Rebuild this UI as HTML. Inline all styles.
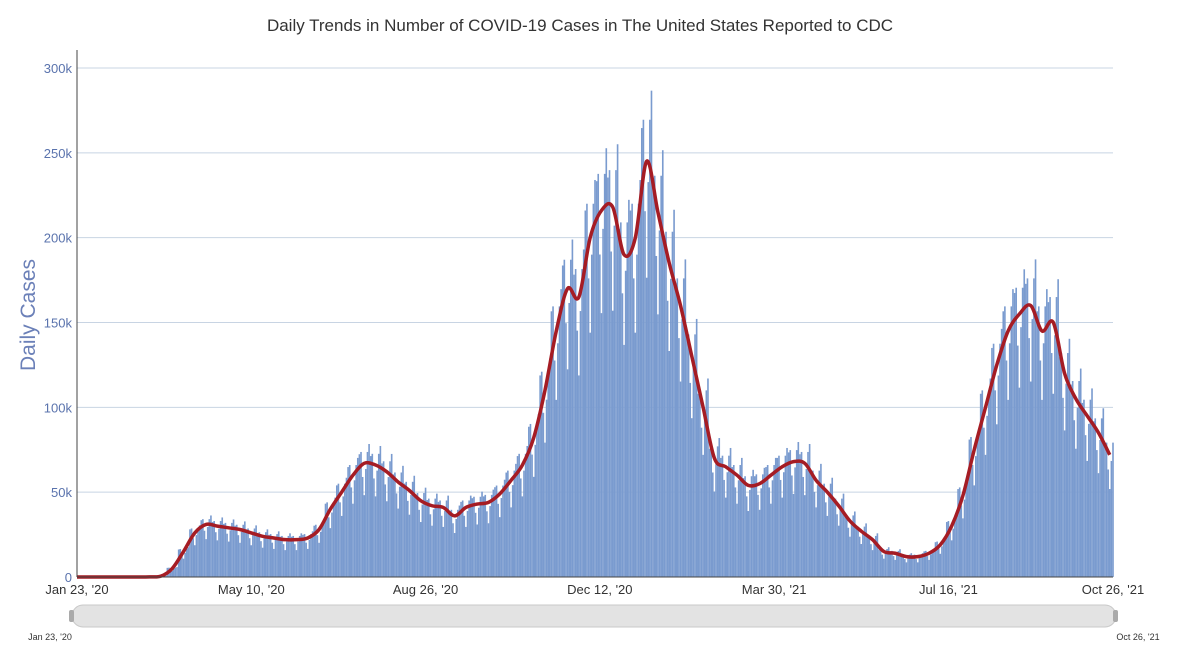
<!DOCTYPE html>
<html><head><meta charset="utf-8">
<style>
body{margin:0;background:#fff;font-family:"Liberation Sans",sans-serif;}
svg text{font-family:"Liberation Sans",sans-serif;}
</style></head>
<body>
<svg id="chart" width="1186" height="660" viewBox="0 0 1186 660">
<text x="580" y="31" text-anchor="middle" font-size="17" fill="#333">Daily Trends in Number of COVID-19 Cases in The United States Reported to CDC</text>
<text x="0" y="0" transform="translate(35,315) rotate(-90)" text-anchor="middle" font-size="21" fill="#6b80b8">Daily Cases</text>
<g id="grid"></g>
<g id="bars"></g>
<g id="line"></g>
<g id="axes"></g>
<g>
<rect x="72" y="605" width="1044" height="22" rx="11" fill="#e3e3e3" stroke="#c9c9c9"/>
<rect x="69" y="610" width="5" height="12" rx="2" fill="#aaa"/>
<rect x="1113" y="610" width="5" height="12" rx="2" fill="#aaa"/>
<text x="50" y="640" text-anchor="middle" font-size="9" fill="#333">Jan 23, '20</text>
<text x="1138" y="640" text-anchor="middle" font-size="9" fill="#333">Oct 26, '21</text>
</g>
</svg>
<script>
const weeklyAvgK=[0,0,0,0,0,0,0.1,0.5,5,15,26,31,30,29,28,26,24,23,22,22,23,28,40,50,60,67,66,62,56,51,45,42,41,36,41,43,44,49,57,66,82,110,145,170,165,200,216,218,190,200,245,215,185,160,130,100,70,65,60,54,55,60,65,68,67,57,50,42,33,27,22,15,14,12,12,14,19,30,48,75,100,125,145,155,160,145,150,120,105,95,85,72];
const weekdayFactor=[1.08,1.1,0.88,0.72,0.95,1.1,1.17];
const yTicks=[0,50000,100000,150000,200000,250000,300000];
const yTickLabels=["0","50k","100k","150k","200k","250k","300k"];
const xTickDays=[0,108,216,324,432,540,642];
const xTickLabels=["Jan 23, '20","May 10, '20","Aug 26, '20","Dec 12, '20","Mar 30, '21","Jul 16, '21","Oct 26, '21"];
const NDAYS=643;
const NS="http://www.w3.org/2000/svg";
const x0=77,x1=1113,yb=577,yt=68;
function xs(d){return x0+(x1-x0)*d/(NDAYS-1);}
function ys(v){return yb-(yb-yt)*v/300000;}
function mk(t,a,p){const e=document.createElementNS(NS,t);for(const k in a)e.setAttribute(k,a[k]);p.appendChild(e);return e;}
const grid=document.getElementById('grid'),bars=document.getElementById('bars'),line=document.getElementById('line'),axes=document.getElementById('axes');
yTicks.forEach((v,i)=>{
 if(i>0){const g=mk('line',{x1:x0,x2:x1,y1:ys(v),y2:ys(v),stroke:'#c8d4e3','stroke-width':1},grid);
 
 }
 const t=mk('text',{x:x0-5,y:ys(v)+5,'text-anchor':'end','font-size':13,fill:'#5a73ad'},axes);
 t.textContent=yTickLabels[i];
 
 
});
for(let d=0;d<NDAYS;d++){
 const w=Math.floor(d/7);const v=weeklyAvgK[Math.min(w,weeklyAvgK.length-1)]*1000*weekdayFactor[d%7];
 if(v<=0)continue;
 const r=mk('rect',{x:xs(d)-0.81,y:ys(v),width:1.62,height:yb-ys(v),fill:'#7a9bcf'},bars);
 
 
}
const pts=weeklyAvgK.map((v,i)=>[xs(Math.min(i*7+3,NDAYS-1)),ys(v*1000)]);
pts.unshift([xs(0),ys(0)]);
let dstr='M'+pts[0][0]+','+pts[0][1];
for(let i=0;i<pts.length-1;i++){
 const p0=pts[Math.max(i-1,0)],p1=pts[i],p2=pts[i+1],p3=pts[Math.min(i+2,pts.length-1)];
 const c1=[p1[0]+(p2[0]-p0[0])/6,p1[1]+(p2[1]-p0[1])/6],c2=[p2[0]-(p3[0]-p1[0])/6,p2[1]-(p3[1]-p1[1])/6];
 dstr+=` C${c1[0]},${c1[1]} ${c2[0]},${c2[1]} ${p2[0]},${p2[1]}`;
}
const pl=mk('path',{d:dstr,fill:'none',stroke:'#a51c24','stroke-width':3.5,'stroke-linejoin':'round'},line);


const ax=mk('line',{x1:x0,x2:x1,y1:yb,y2:yb,stroke:'#444','stroke-width':1},axes);


const ay=mk('line',{x1:x0,x2:x0,y1:50,y2:yb,stroke:'#444','stroke-width':1},axes);


xTickDays.forEach((d,i)=>{
 const t=mk('text',{x:xs(d),y:594,'text-anchor':'middle','font-size':13,fill:'#333'},axes);
 t.textContent=xTickLabels[i];
 
 
});
</script>
</body></html>
